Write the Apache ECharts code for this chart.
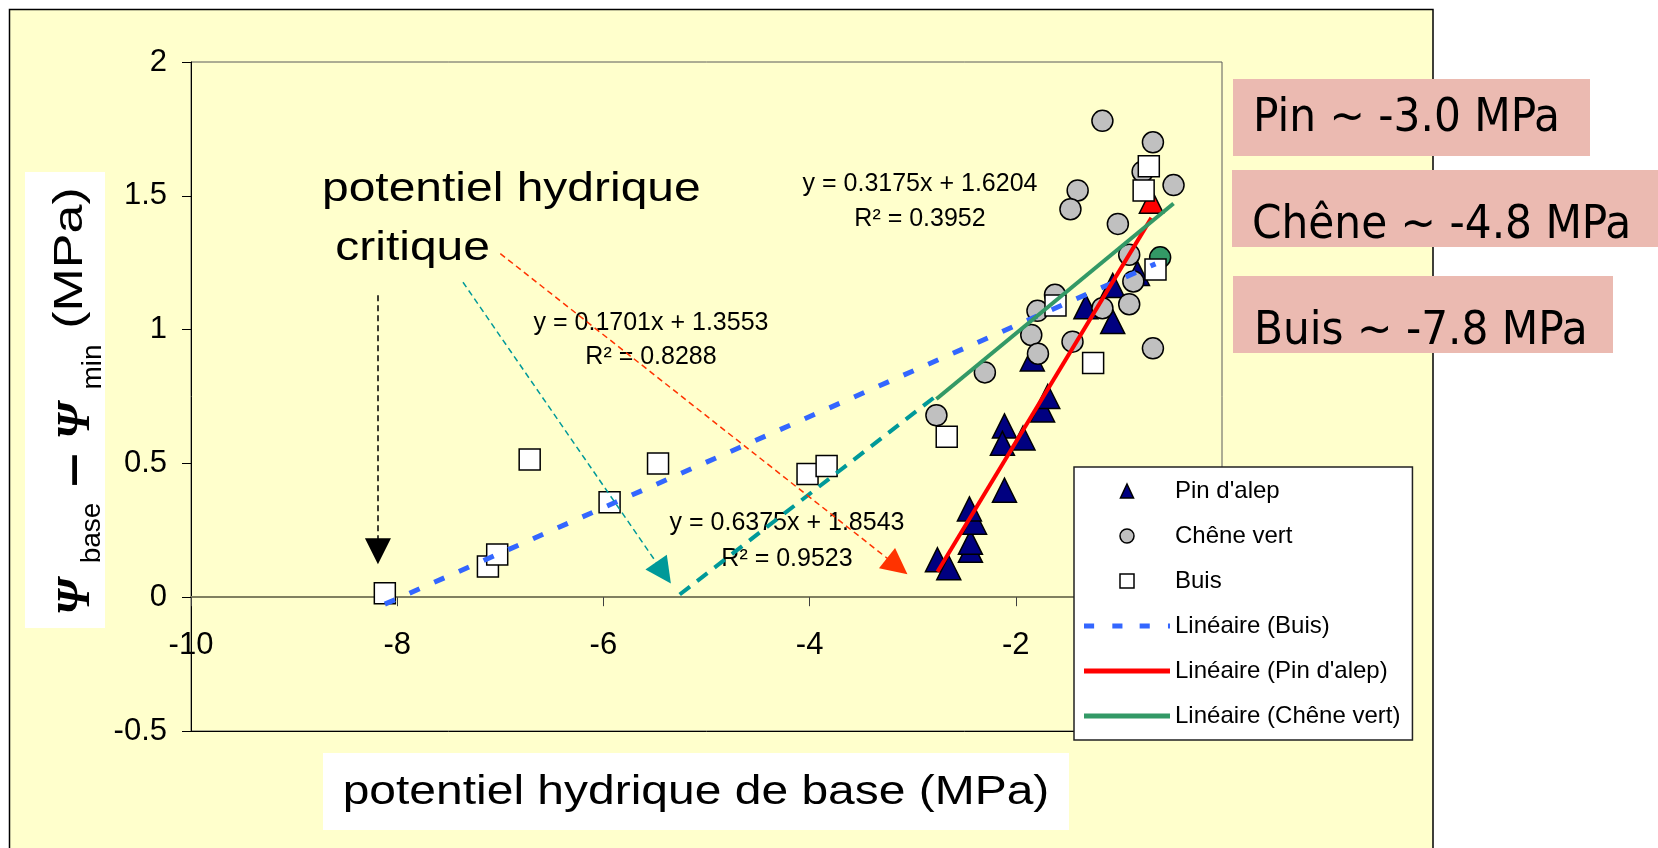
<!DOCTYPE html>
<html><head><meta charset="utf-8">
<script src="https://cdn.jsdelivr.net/npm/echarts@6/dist/echarts.min.js"></script>
<style>html,body{margin:0;padding:0;background:#fff;overflow:hidden}#c{width:1658px;height:848px}</style>
</head><body><div id="c"></div>
<script>
// ---------- data ----------
const pinData = [
  [-2.76, 0.14], [-2.65, 0.11], [-2.44, 0.175], [-2.44, 0.205], [-2.40, 0.28], [-2.45, 0.33],
  [-2.11, 0.40], [-2.11, 0.64], [-2.13, 0.575], [-1.93, 0.595], [-1.74, 0.70], [-1.69, 0.75],
  [-1.84, 0.89], [-1.06, 1.03], [-1.32, 1.085], [-1.06, 1.165], [-0.82, 1.21], [-0.685, 1.48]
];
const pinRedIndex = 17;
const cheneData = [
  [-1.16, 1.78], [-0.67, 1.70], [-0.77, 1.59], [-0.47, 1.54], [-1.40, 1.52], [-1.47, 1.45],
  [-1.01, 1.395], [-0.90, 1.28], [-0.60, 1.27], [-0.86, 1.18], [-0.90, 1.095], [-1.16, 1.08],
  [-1.62, 1.13], [-1.79, 1.07], [-1.85, 0.98], [-1.45, 0.955], [-0.67, 0.93], [-1.785, 0.91],
  [-2.30, 0.84], [-2.77, 0.68]
];
const cheneGreenIndex = 8;
const buisData = [
  [-8.12, 0.015], [-7.12, 0.115], [-7.03, 0.16], [-6.715, 0.515], [-5.94, 0.355], [-5.47, 0.50],
  [-4.02, 0.46], [-3.835, 0.49], [-2.67, 0.60], [-1.25, 0.875], [-1.615, 1.09], [-0.645, 1.225],
  [-0.76, 1.52], [-0.71, 1.61]
];
// trend line equations  y = a x + b
const trendBuis = [0.1701, 1.3553];
const trendPin = [0.6375, 1.8543];
const trendChene = [0.3175, 1.6204];
const eqBuis = ['y = 0.1701x + 1.3553', 'R² = 0.8288'];
const eqPin = ['y = 0.6375x + 1.8543', 'R² = 0.9523'];
const eqChene = ['y = 0.3175x + 1.6204', 'R² = 0.3952'];
// hand-drawn extension of the oak line (data space)
const cheneExtension = [[-5.26, 0.01], [-2.78, 0.75]];
// annotation arrows (data space): start, end
const arrowBlack = [[-8.187, 1.128], [-8.187, 0.172]];
const arrowTeal = [[-7.362, 1.177], [-5.417, 0.091]];
const arrowOrange = [[-7.0, 1.284], [-3.150, 0.116]];
const xRange = [-10, 0];
const yRange = [-0.5, 2];
const seriesNames = ["Pin d'alep", 'Chêne vert', 'Buis', 'Linéaire (Buis)', "Linéaire (Pin d'alep)", 'Linéaire (Chêne vert)'];
const critText = ['potentiel hydrique', ' critique'];
const boxTexts = ['Pin ~ -3.0 MPa', 'Chêne ~ -4.8 MPa', 'Buis ~ -7.8 MPa'];
const xTitle = 'potentiel hydrique de base (MPa)';

// ---------- helpers ----------
const SANS = "'Liberation Sans', Arial, sans-serif";
const SERIF = "'Liberation Serif', 'Times New Roman', serif";
const TAHO = "'DejaVu Sans Condensed', 'DejaVu Sans', sans-serif";
const GRID = { left: 191, top: 62, width: 1031, height: 669 };
function trendLine(coef, pts) {
  const xs = pts.map(p => p[0]);
  const x0 = Math.min(...xs), x1 = Math.max(...xs);
  return [[x0, coef[0] * x0 + coef[1]], [x1, coef[0] * x1 + coef[1]]];
}
function txt(text, x, y, o) {
  o = o || {};
  const size = o.size || 24;
  const font = (o.italic ? 'italic ' : 'normal ') + (o.bold ? 'bold ' : 'normal ') + size + 'px ' + (o.family || SANS);
  return {
    type: 'text', x: x, y: y, z: o.z == null ? 1 : o.z, silent: true,
    scaleX: o.scaleX || 1, rotation: o.rotation || 0,
    style: {
      text: text, fill: '#000', font: font,
      align: o.align || 'center', textAlign: o.align || 'center',
      verticalAlign: 'middle', textVerticalAlign: 'middle'
    }
  };
}
function arrowLine(seg, color) {
  return [
    { coord: seg[0], lineStyle: { color: color, width: 1.5, type: [6, 4] }, itemStyle: { color: color } },
    { coord: seg[1], lineStyle: { color: color, width: 1.5, type: [6, 4] }, itemStyle: { color: color } }
  ];
}
const DASH_ICON = 'path://M0,0h10v5h-10z M28,0h10v5h-10z M55,0h10v5h-10z M83,0h2v5h-2z';
const LINE_ICON = 'path://M0,0h85v5h-85z';
const TRI_ICON = 'path://M7,0L14,15L0,15Z';
const CIRC_ICON = 'path://M6.5,0A6.5,6.5,0,1,1,6.49,0Z';
const SQ_ICON = 'path://M0,0H13V13H0Z';

const chart = echarts.init(document.getElementById('c'));
const rot = Math.PI / 2;
const graphics = [
  // outer panel
  { type: 'rect', z: -10, silent: true, shape: { x: 9.5, y: 9.5, width: 1423.5, height: 870 },
    style: { fill: '#FFFFCC', stroke: '#000', lineWidth: 1.5 } },
  // axis title boxes
  { type: 'rect', z: 0, silent: true, shape: { x: 25, y: 172, width: 80, height: 456 }, style: { fill: '#fff' } },
  { type: 'rect', z: 0, silent: true, shape: { x: 323, y: 753, width: 746, height: 77 }, style: { fill: '#fff' } },
  txt(xTitle, 696, 793, { size: 41, scaleX: 1.17 }),
  // y axis title (rotated)
  txt('Ψ', 77, 597, { size: 46, italic: true, bold: true, family: SERIF, rotation: rot }),
  txt('base', 92, 533, { size: 28, rotation: rot }),
  txt('–', 75, 470, { size: 48, bold: true, scaleX: 1.25, rotation: rot }),
  txt('Ψ', 77, 421, { size: 46, italic: true, bold: true, family: SERIF, rotation: rot }),
  txt('min', 93, 367, { size: 28, rotation: rot }),
  txt('(MPa)', 71, 258, { size: 40, scaleX: 1.3, rotation: rot }),
  // critical potential annotation
  txt(critText[0], 322, 190, { size: 41, scaleX: 1.17, align: 'left' }),
  txt(critText[1], 322, 249, { size: 41, scaleX: 1.17, align: 'left' }),
  // equations
  txt(eqChene[0], 920, 184, { size: 25 }), txt(eqChene[1], 920, 219, { size: 25 }),
  txt(eqBuis[0], 651, 323, { size: 25 }), txt(eqBuis[1], 651, 357, { size: 25 }),
  txt(eqPin[0], 787, 523, { size: 25 }), txt(eqPin[1], 787, 559, { size: 25 }),
  // pink boxes
  { type: 'rect', z: 20, silent: true, shape: { x: 1233, y: 79, width: 357, height: 77 }, style: { fill: '#EBBAB1' } },
  { type: 'rect', z: 20, silent: true, shape: { x: 1232, y: 170, width: 426, height: 77 }, style: { fill: '#EBBAB1' } },
  { type: 'rect', z: 20, silent: true, shape: { x: 1233, y: 276, width: 380, height: 77 }, style: { fill: '#EBBAB1' } },
  txt(boxTexts[0], 1253, 118.5, { size: 47, family: TAHO, align: 'left', z: 21 }),
  txt(boxTexts[1], 1252, 225.5, { size: 47, family: TAHO, align: 'left', z: 21 }),
  txt(boxTexts[2], 1254, 331.5, { size: 47, family: TAHO, align: 'left', z: 21 })
];

// place the labelled x axis on the y = 0 line
const zeroOffset = -GRID.height * (0 - yRange[0]) / (yRange[1] - yRange[0]);

const option = {
  animation: false,
  backgroundColor: '#fff',
  grid: Object.assign({ show: true, backgroundColor: 'transparent', borderColor: '#5a5a5a', borderWidth: 1 }, GRID),
  xAxis: [
    { type: 'value', min: xRange[0], max: xRange[1], interval: 2, position: 'bottom', offset: zeroOffset,
      axisLine: { show: true, onZero: false, lineStyle: { color: '#808060', width: 2 } },
      axisTick: { show: true, inside: false, length: 9, lineStyle: { color: '#404040', width: 1 } },
      axisLabel: { show: true, fontSize: 31, fontFamily: SANS, color: '#000', margin: 33 },
      splitLine: { show: false } },
    { type: 'value', min: xRange[0], max: xRange[1], position: 'bottom',
      axisLine: { show: true, onZero: false, lineStyle: { color: '#000', width: 1 } },
      axisTick: { show: false }, axisLabel: { show: false }, splitLine: { show: false } }
  ],
  yAxis: { type: 'value', min: yRange[0], max: yRange[1], interval: 0.5,
    axisLine: { show: true, onZero: false, lineStyle: { color: '#000', width: 1 } },
    axisTick: { show: true, inside: false, length: 9, lineStyle: { color: '#000', width: 1 } },
    axisLabel: { show: true, fontSize: 31, fontFamily: SANS, color: '#000', margin: 24 },
    splitLine: { show: false } },
  legend: {
    orient: 'vertical', left: 1074, top: 467, padding: [12, 12, 12, 10], itemGap: 21,
    itemWidth: 86, itemHeight: 14, backgroundColor: '#fff', borderColor: '#222', borderWidth: 1.5,
    symbolKeepAspect: true,
    selectedMode: false, textStyle: { fontSize: 24, fontFamily: SANS, color: '#000' },
    data: [
      { name: seriesNames[0], icon: TRI_ICON, itemStyle: { borderColor: '#000', borderWidth: 1.5 } },
      { name: seriesNames[1], icon: CIRC_ICON, itemStyle: { borderColor: '#000', borderWidth: 1.5 } },
      { name: seriesNames[2], icon: SQ_ICON, itemStyle: { borderColor: '#000', borderWidth: 1.5 } },
      { name: seriesNames[3], icon: DASH_ICON, itemStyle: { borderWidth: 0 } },
      { name: seriesNames[4], icon: LINE_ICON, itemStyle: { borderWidth: 0 } },
      { name: seriesNames[5], icon: LINE_ICON, itemStyle: { borderWidth: 0 } }
    ]
  },
  graphic: { elements: graphics },
  series: [
    { name: seriesNames[0], type: 'scatter', symbol: 'triangle', symbolSize: 24,
      itemStyle: { color: '#000080', borderColor: '#000', borderWidth: 1.5, opacity: 1 },
      data: pinData.map((p, i) => i === pinRedIndex ? { value: p, itemStyle: { color: '#FF0000' } } : p) },
    { name: seriesNames[1], type: 'scatter', symbol: 'circle', symbolSize: 21,
      itemStyle: { color: '#C0C0C0', borderColor: '#000', borderWidth: 1.5, opacity: 1 },
      data: cheneData.map((p, i) => i === cheneGreenIndex ? { value: p, itemStyle: { color: '#339966' } } : p) },
    { name: seriesNames[2], type: 'scatter', symbol: 'rect', symbolSize: 21,
      itemStyle: { color: '#FFFFFF', borderColor: '#000', borderWidth: 1.5, opacity: 1 },
      data: buisData },
    { name: seriesNames[3], type: 'line', symbol: 'none', color: '#3366FF',
      lineStyle: { color: '#3366FF', width: 5, type: [11, 16] }, data: trendLine(trendBuis, buisData) },
    { name: seriesNames[4], type: 'line', symbol: 'none', color: '#FF0000',
      lineStyle: { color: '#FF0000', width: 4 }, data: trendLine(trendPin, pinData) },
    { name: seriesNames[5], type: 'line', symbol: 'none', color: '#339966',
      lineStyle: { color: '#339966', width: 4 }, data: trendLine(trendChene, cheneData) },
    { name: 'extension', type: 'line', symbol: 'none', color: '#009999',
      lineStyle: { color: '#009999', width: 4, type: [13, 9] }, data: cheneExtension,
      markLine: { silent: true, symbol: ['none', 'triangle'], symbolSize: 26, label: { show: false },
        emphasis: { disabled: true },
        data: [arrowLine(arrowBlack, '#000000'), arrowLine(arrowTeal, '#009999'), arrowLine(arrowOrange, '#FF3300')] } }
  ]
};
chart.setOption(option);
</script></body></html>
